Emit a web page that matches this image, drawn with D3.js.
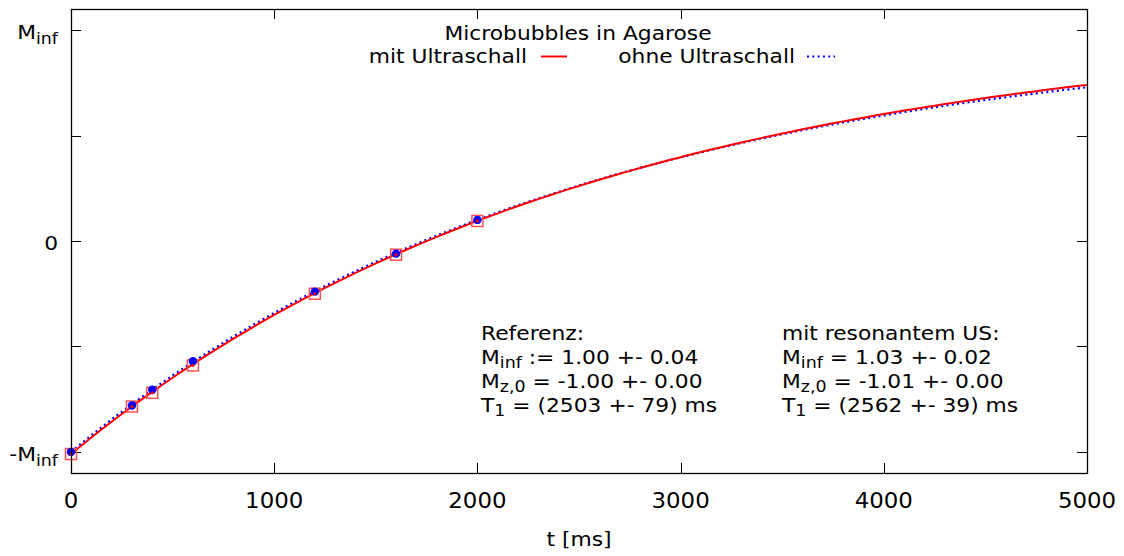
<!DOCTYPE html>
<html>
<head>
<meta charset="utf-8">
<script src="https://cdn.jsdelivr.net/npm/d3@7"></script>
<style>
  html, body { margin: 0; padding: 0; background: #fff; }
  svg { display: block; font-family: "DejaVu Sans", Verdana, sans-serif; }
</style>
</head>
<body>
<svg id="chart" width="1124" height="556"></svg>
<script>
// Inversion-recovery measurement times and normalised magnetisation
const times = [0, 300, 400, 600, 1200, 1600, 2000];
const mitUltraschall = [-1.01, -0.785, -0.72, -0.59, -0.25, -0.065, 0.095];
const ohneUltraschall = [-1.0, -0.78, -0.705, -0.57, -0.24, -0.06, 0.10];

// Fit parameters [M_inf, M_z0, T1 in ms]
const fitMit = [1.03, -1.01, 2562];
const fitOhne = [1.00, -1.00, 2503];

const xTicks = [0, 1000, 2000, 3000, 4000, 5000];
const yTicks = [-1, -0.5, 0, 0.5, 1];
const yTickLabels = ["-M|inf", "", "0", "", "M|inf"];

const svg = d3.select("#chart");
const mLeft = 71, mRight = 1087, mTop = 9, mBottom = 473;

const x = d3.scaleLinear().domain([0, 5000]).range([mLeft, mRight]);
const y = d3.scaleLinear().domain([-1.1, 1.1]).range([mBottom, mTop]);

const fs = 20;      // base font size
const sx = 1.09;    // horizontal glyph stretch of the output terminal

// text placed at (px, py) and widened horizontally about its anchor
function label(parent, px, py, anchor, size) {
  return parent.append("text")
    .attr("transform", `translate(${px},${py}) scale(${sx},1)`)
    .attr("text-anchor", anchor).attr("font-size", size || fs).attr("fill", "#000");
}

// T1 recovery model
const model = p => t => p[0] - (p[0] - p[1]) * Math.exp(-t / p[2]);
const grid = d3.range(0, 5000.001, 50);

const clipId = "plotclip";
svg.append("clipPath").attr("id", clipId)
  .append("rect").attr("x", mLeft).attr("y", mTop)
  .attr("width", mRight - mLeft).attr("height", mBottom - mTop);

// Axes with mirrored inward ticks
const tickLen = 10;
const axG = svg.append("g").attr("stroke", "#000").attr("stroke-width", 1);
xTicks.forEach(v => {
  const px = Math.round(x(v)) + 0.5;
  axG.append("line").attr("x1", px).attr("x2", px).attr("y1", mBottom).attr("y2", mBottom - tickLen);
  axG.append("line").attr("x1", px).attr("x2", px).attr("y1", mTop).attr("y2", mTop + tickLen);
});
yTicks.forEach(v => {
  const py = Math.round(y(v)) + 0.5;
  axG.append("line").attr("x1", mLeft).attr("x2", mLeft + tickLen).attr("y1", py).attr("y2", py);
  axG.append("line").attr("x1", mRight).attr("x2", mRight - tickLen).attr("y1", py).attr("y2", py);
});

// x tick labels
xTicks.forEach(v => label(svg, x(v), 508, "middle", 21).text(v));

// y tick labels (with subscripts)
yTicks.forEach((v, i) => {
  if (!yTickLabels[i]) return;
  const parts = yTickLabels[i].split("|");
  const t = label(svg, 58, y(v) + 9, "end");
  t.append("tspan").text(parts[0]);
  if (parts.length > 1) t.append("tspan").attr("font-size", fs * 0.8).attr("dy", 5).text(parts[1]);
});

// x axis title
label(svg, (mLeft + mRight) / 2, 546, "middle").text("t [ms]");

const plot = svg.append("g").attr("clip-path", `url(#${clipId})`);
const line = d3.line().x(d => x(d[0])).y(d => y(d[1]));

// fit curves
plot.append("path").datum(grid.map(t => [t, model(fitOhne)(t)]))
  .attr("d", line).attr("fill", "none").attr("stroke", "#0000ff")
  .attr("stroke-width", 2.2).attr("stroke-dasharray", "2,3.3");
plot.append("path").datum(grid.map(t => [t, model(fitMit)(t)]))
  .attr("d", line).attr("fill", "none").attr("stroke", "#ff0000")
  .attr("stroke-width", 2);

// measured points
const sq = 11;
svg.append("g").selectAll("rect").data(times).join("rect")
  .attr("x", d => x(d) - sq / 2).attr("y", (d, i) => y(mitUltraschall[i]) - sq / 2)
  .attr("width", sq).attr("height", sq)
  .attr("fill", "none").attr("stroke", "#ff5050").attr("stroke-width", 1.5);
svg.append("g").selectAll("circle").data(times).join("circle")
  .attr("cx", d => x(d)).attr("cy", (d, i) => y(ohneUltraschall[i]))
  .attr("r", 4.2).attr("fill", "#0000ff");
svg.append("g").selectAll("circle").data(times).join("circle")
  .attr("cx", d => x(d)).attr("cy", (d, i) => y(mitUltraschall[i]))
  .attr("r", 1.6).attr("fill", "#ff0000");

// frame
svg.append("rect").attr("x", mLeft + 0.5).attr("y", mTop + 0.5)
  .attr("width", mRight - mLeft).attr("height", mBottom - mTop)
  .attr("fill", "none").attr("stroke", "#000").attr("stroke-width", 1.3);

// title and legend
label(svg, 578, 40, "middle").text("Microbubbles in Agarose");
label(svg, 527, 63, "end").text("mit Ultraschall");
svg.append("line").attr("x1", 541).attr("x2", 567).attr("y1", 56.5).attr("y2", 56.5)
  .attr("stroke", "#ff0000").attr("stroke-width", 2);
label(svg, 795, 63, "end").text("ohne Ultraschall");
svg.append("line").attr("x1", 807).attr("x2", 835).attr("y1", 56.5).attr("y2", 56.5)
  .attr("stroke", "#0000ff").attr("stroke-width", 2.2).attr("stroke-dasharray", "2,3.3");

// fit result annotations
function fmt(v, d) { return v.toFixed(d); }
const blocks = [
  { x: 481, lines: [
    ["Referenz:"],
    ["M", "inf", " := " + fmt(fitOhne[0], 2) + " +- 0.04"],
    ["M", "z,0", " = " + fmt(fitOhne[1], 2) + " +- 0.00"],
    ["T", "1", " = (" + fitOhne[2] + " +- 79) ms"]
  ]},
  { x: 782, lines: [
    ["mit resonantem US:"],
    ["M", "inf", " = " + fmt(fitMit[0], 2) + " +- 0.02"],
    ["M", "z,0", " = " + fmt(fitMit[1], 2) + " +- 0.00"],
    ["T", "1", " = (" + fitMit[2] + " +- 39) ms"]
  ]}
];
const baselines = [340, 364, 388, 412];
blocks.forEach(b => {
  b.lines.forEach((ln, i) => {
    const t = label(svg, b.x, baselines[i], "start");
    t.append("tspan").text(ln[0]);
    if (ln.length > 1) {
      t.append("tspan").attr("font-size", fs * 0.8).attr("dy", 4).text(ln[1]);
      t.append("tspan").attr("dy", -4).text(ln[2]);
    }
  });
});
</script>
</body>
</html>
